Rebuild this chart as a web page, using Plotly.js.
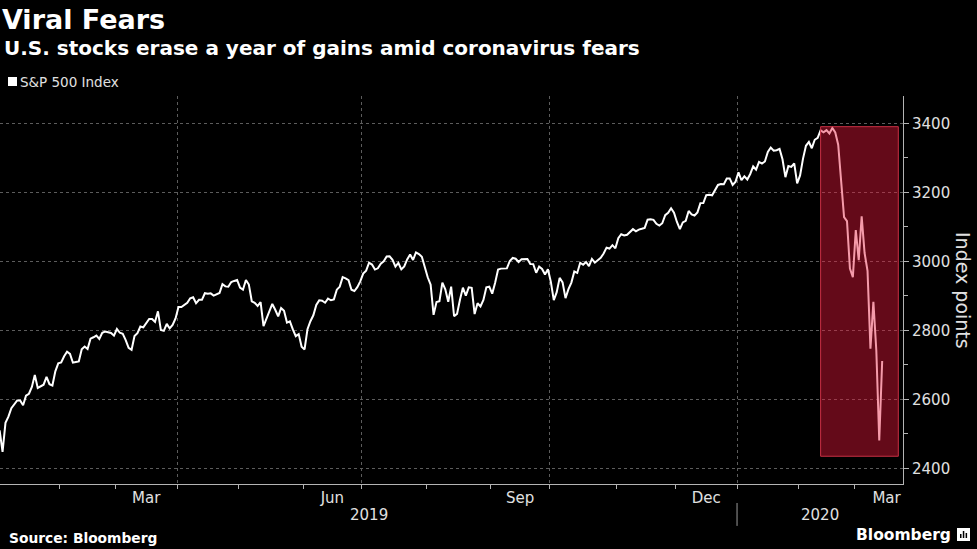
<!DOCTYPE html>
<html>
<head>
<meta charset="utf-8">
<script src="https://cdn.plot.ly/plotly-3.0.1.min.js"></script>
<style>
  html, body { margin: 0; padding: 0; background: #000; }
  #chart { width: 977px; height: 549px; }
</style>
</head>
<body>
<div id="chart"></div>
<script>
// ---- S&P 500 daily closes (trading days) ----
const jan19 = [2510.03,2447.89,2531.94,2549.69,2574.41,2584.96,2596.64,2596.26,2582.61,2610.30,2616.10,2635.96,2670.71,2632.90,2638.70,2642.33,2664.76,2643.85,2640.00,2681.05,2704.10];
const feb19 = [2706.53,2724.87,2737.70,2731.61,2706.05,2707.88,2709.80,2744.73,2753.03,2745.73,2775.60,2779.76,2784.70,2774.88,2792.67,2796.11,2793.90,2792.38,2784.49];
const mar19 = [2803.69,2792.81,2789.65,2771.45,2748.93,2743.07,2783.30,2791.52,2810.92,2808.48,2822.48,2832.94,2832.57,2824.23,2854.88,2800.71,2798.36,2818.46,2805.37,2815.44,2834.40];
const apr19 = [2867.19,2867.24,2873.40,2879.39,2892.74,2895.77,2878.20,2888.21,2888.32,2907.41,2905.58,2907.06,2900.45,2905.03,2907.97,2933.68,2927.25,2926.17,2939.88,2943.03,2945.83];
const may19 = [2923.73,2917.52,2945.64,2932.47,2884.05,2879.42,2870.72,2881.40,2811.87,2834.41,2850.96,2876.32,2859.53,2840.23,2864.36,2856.27,2822.24,2826.06,2802.39,2783.02,2788.86,2752.06];
const jun19 = [2744.45,2803.27,2826.15,2843.49,2873.34,2886.73,2885.72,2879.84,2891.64,2886.98,2889.67,2917.75,2926.46,2954.18,2950.46,2945.35,2917.38,2913.78,2924.92,2941.76];
const jul19 = [2964.33,2973.01,2995.82,2990.41,2975.95,2979.63,2993.07,2999.91,3013.77,3014.30,3004.04,2984.42,2995.11,2976.61,2985.03,3005.47,3019.56,3003.67,3025.86,3020.97,3013.18,2980.38];
const aug19 = [2953.56,2932.05,2844.74,2881.77,2883.98,2938.09,2918.65,2882.70,2926.32,2840.60,2847.60,2888.68,2923.65,2900.51,2924.43,2922.95,2847.11,2878.38,2869.16,2887.94,2924.58,2926.46];
const sep19 = [2906.27,2937.78,2976.00,2978.71,2978.43,2979.39,3000.93,3009.57,3007.39,2997.96,3005.70,3006.73,3006.79,2992.07,2991.78,2966.60,2984.87,2977.62,2961.79,2976.74];
const oct19 = [2940.25,2887.61,2910.63,2952.01,2938.79,2893.06,2919.40,2938.13,2970.27,2966.15,2995.68,2989.69,2997.95,2986.20,3006.72,2995.99,3004.52,3010.29,3022.55,3039.42,3036.89,3046.77,3037.56];
const nov19 = [3066.91,3078.27,3074.62,3076.78,3085.18,3093.08,3087.01,3091.84,3094.04,3096.63,3120.46,3122.03,3120.18,3108.46,3103.54,3110.29,3133.64,3140.52,3153.63,3140.98];
const dec19 = [3113.87,3093.20,3112.76,3117.43,3145.91,3135.96,3132.52,3141.63,3168.57,3168.80,3191.45,3192.52,3191.14,3205.37,3221.22,3224.01,3223.38,3239.91,3240.02,3221.29,3230.78];
const jan20 = [3257.85,3234.85,3246.28,3237.18,3253.05,3274.70,3265.35,3288.13,3283.15,3289.29,3316.81,3329.62,3320.79,3321.75,3325.54,3295.47,3243.63,3276.24,3273.40,3283.66,3225.52];
const feb20 = [3248.92,3297.59,3334.69,3345.78,3327.71,3352.09,3357.75,3379.45,3373.94,3380.16,3370.29,3386.15,3373.23,3337.75,3225.89,3128.21,3116.39,2978.76,2954.22];
const mar20 = [3090.23,3003.37,3130.12,3023.94,2972.37,2746.56,2882.23,2741.38,2480.64,2711.02];

const seriesName = 'S&P 500 Index';
const firstDay = '2019-01-02';
const calendarEnd = '2020-03-31';
const marketHolidays = ['2019-01-21','2019-02-18','2019-04-19','2019-05-27','2019-07-04','2019-09-02','2019-11-28','2019-12-25','2020-01-01','2020-01-20','2020-02-17'];
const labelMonths = ['2019-03','2019-06','2019-09','2019-12','2020-03'];
const monthLabels = ['Mar','Jun','Sep','Dec','Mar'];
const yearLabels = ['2019','2020'];
const highlightStart = '2020-02-12';

const values = [].concat(jan19,feb19,mar19,apr19,may19,jun19,jul19,aug19,sep19,oct19,nov19,dec19,jan20,feb20,mar20);

// trading-day calendar (Bloomberg-style axis: one slot per session)
function tradingDays(start, end) {
  const out = [];
  const d = new Date(start + 'T00:00:00Z');
  const e = new Date(end + 'T00:00:00Z');
  while (d <= e) {
    const iso = d.toISOString().slice(0, 10);
    const wd = d.getUTCDay();
    if (wd !== 0 && wd !== 6 && marketHolidays.indexOf(iso) < 0) out.push(iso);
    d.setUTCDate(d.getUTCDate() + 1);
  }
  return out;
}
const sessions = tradingDays(firstDay, calendarEnd);
const xIdx = values.map((v, i) => i);

// month boundaries / centres from the calendar
const monthFirst = {}, monthLast = {};
sessions.forEach((s, i) => {
  const m = s.slice(0, 7);
  if (!(m in monthFirst)) monthFirst[m] = i;
  monthLast[m] = i;
});
const monthKeys = Object.keys(monthFirst);
const monthBounds = monthKeys.slice(1).map(m => monthFirst[m] - 0.5);
const quarterBounds = monthKeys.filter(m => ['01','04','07','10'].indexOf(m.slice(5)) >= 0 && monthFirst[m] > 0).map(m => monthFirst[m] - 0.5);
const labelPos = labelMonths.map(m => (monthFirst[m] + monthLast[m]) / 2);
const yearBound = monthFirst['2020-01'] - 0.5;

const xRange = [0.13, 308.1];
const yRange = [2354.5, 3479];

const vMin = Math.min.apply(null, values), vMax = Math.max.apply(null, values);
const hlX0 = sessions.indexOf(highlightStart);
const hlX1 = values.length - 1 + 5.5;

const textCol = '#e0e0e0';
const axisCol = '#b4b4b4';
const gridCol = '#5c5c5c';
const fam = '"DejaVu Sans", Verdana, sans-serif';

// pixel helpers for paper-anchored decorations (plot area 903 x 388, top at 96)
const PW = 903, PH = 388, PB = 484;
const px = v => v / PW;
const py = v => (PB - v) / PH;

const traces = [
  { x: xIdx, y: values, type: 'scatter', mode: 'lines', name: seriesName,
    line: { color: '#ffffff', width: 2 }, hoverinfo: 'skip', showlegend: false },
  { x: [], y: [], type: 'scatter', xaxis: 'x2', showlegend: false },
  { x: [], y: [], type: 'scatter', xaxis: 'x3', showlegend: false }
];

const layout = {
  width: 977, height: 549,
  paper_bgcolor: '#000', plot_bgcolor: '#000',
  margin: { l: 0, r: 74, t: 96, b: 65 },
  showlegend: false,
  title: { text: '<b>Viral Fears</b>', x: 0.002, xref: 'container', xanchor: 'left',
           y: 1 - 20 / 549, yref: 'container', yanchor: 'middle',
           font: { family: fam, size: 27, color: '#ffffff' } },
  xaxis: {
    type: 'linear', range: xRange, tickmode: 'array', tickvals: labelPos, ticktext: monthLabels,
    ticks: '', showgrid: false, zeroline: false, showline: true, linecolor: axisCol, linewidth: 1,
    tickfont: { family: fam, size: 15, color: textCol }, fixedrange: true
  },
  xaxis2: {
    type: 'linear', range: xRange, overlaying: 'x', anchor: 'y', side: 'bottom',
    tickmode: 'array', tickvals: monthBounds, ticks: 'outside', ticklen: 4, tickwidth: 1, tickcolor: axisCol,
    showticklabels: false, showgrid: false, zeroline: false, showline: false
  },
  xaxis3: {
    type: 'linear', range: xRange, overlaying: 'x', anchor: 'y', side: 'bottom',
    tickmode: 'array', tickvals: quarterBounds, ticks: '', showticklabels: false,
    showgrid: true, gridcolor: gridCol, griddash: 'dot', gridwidth: 1, zeroline: false, showline: false
  },
  yaxis: {
    side: 'right', range: yRange, tickmode: 'linear', tick0: 2400, dtick: 200,
    ticks: 'outside', ticklen: 5, tickwidth: 1, tickcolor: axisCol,
    showline: true, linecolor: axisCol, linewidth: 1,
    showgrid: true, gridcolor: gridCol, griddash: 'dot', gridwidth: 1, zeroline: false,
    tickfont: { family: fam, size: 15, color: textCol },
    minor: { tick0: 2300, dtick: 100, ticks: 'outside', ticklen: 4, tickcolor: axisCol, showgrid: false },
    fixedrange: true
  },
  shapes: [
    { type: 'rect', xref: 'x', yref: 'y', x0: hlX0, x1: hlX1, y0: vMin - 13, y1: vMax + 4,
      fillcolor: 'rgba(232,23,58,0.43)', line: { color: 'rgb(200,48,68)', width: 1 }, layer: 'above' },
    { type: 'line', xref: 'x', yref: 'paper', x0: yearBound, x1: yearBound, y0: -0.049, y1: -0.108,
      line: { color: '#9a9a9a', width: 1 } },
    // legend swatch
    { type: 'rect', xref: 'paper', yref: 'paper', x0: px(8), x1: px(17), y0: py(86), y1: py(77),
      fillcolor: '#ffffff', line: { width: 0 } },
    // Bloomberg mark
    { type: 'rect', xref: 'paper', yref: 'paper', x0: px(957), x1: px(970), y0: py(541), y1: py(528),
      fillcolor: '#ffffff', line: { width: 0 } },
    { type: 'rect', xref: 'paper', yref: 'paper', x0: px(960), x1: px(961.5), y0: py(538), y1: py(534),
      fillcolor: '#000000', line: { width: 0 } },
    { type: 'rect', xref: 'paper', yref: 'paper', x0: px(962.8), x1: px(964.3), y0: py(538), y1: py(531),
      fillcolor: '#000000', line: { width: 0 } },
    { type: 'rect', xref: 'paper', yref: 'paper', x0: px(965.6), x1: px(967.1), y0: py(538), y1: py(533),
      fillcolor: '#000000', line: { width: 0 } }
  ],
  annotations: [
    { text: '<b>U.S. stocks erase a year of gains amid coronavirus fears</b>', xref: 'paper', yref: 'paper',
      x: px(2), y: py(48), xanchor: 'left', yanchor: 'middle', showarrow: false,
      font: { family: fam, size: 20, color: '#ffffff' } },
    { text: seriesName, xref: 'paper', yref: 'paper', x: px(18), y: py(82),
      xanchor: 'left', yanchor: 'middle', showarrow: false, font: { family: fam, size: 13.5, color: textCol } },
    { text: 'Index points', xref: 'paper', yref: 'paper', x: px(963), y: py(290),
      xanchor: 'center', yanchor: 'middle', textangle: 90, showarrow: false,
      font: { family: fam, size: 19, color: textCol } },
    { text: yearLabels[0], xref: 'x', yref: 'paper', x: (xRange[0] + yearBound) / 2, y: py(515),
      xanchor: 'center', yanchor: 'middle', showarrow: false, font: { family: fam, size: 15, color: textCol } },
    { text: yearLabels[1], xref: 'x', yref: 'paper', x: (yearBound + xRange[1]) / 2, y: py(515),
      xanchor: 'center', yanchor: 'middle', showarrow: false, font: { family: fam, size: 15, color: textCol } },
    { text: '<b>Source: Bloomberg</b>', xref: 'paper', yref: 'paper', x: px(7), y: py(538),
      xanchor: 'left', yanchor: 'middle', showarrow: false, font: { family: fam, size: 13.8, color: '#ffffff' } },
    { text: '<b>Bloomberg</b>', xref: 'paper', yref: 'paper', x: px(953), y: py(535),
      xanchor: 'right', yanchor: 'middle', showarrow: false, font: { family: fam, size: 15.5, color: '#ffffff' } }
  ]
};

Plotly.newPlot('chart', traces, layout, { staticPlot: true, displayModeBar: false });
</script>
</body>
</html>
